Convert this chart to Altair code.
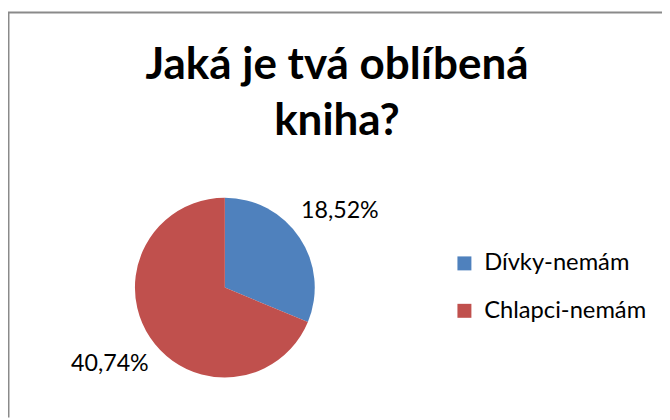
import altair as alt
import pandas as pd

categories = ["Dívky-nemám", "Chlapci-nemám"]
values = [18.52, 40.74]
colors = ["#4F81BD", "#C0504D"]
title_lines = ["Jaká je tvá oblíbená", "kniha?"]

labels = [f"{v:.2f}".replace(".", ",") + "%" for v in values]
df = pd.DataFrame({"cat": categories, "val": values, "label": labels, "ord": [0, 1]})

W, H = 662, 412
CX, CY = 219.5, 280.5
FONT = "Lato"

base = alt.Chart(df).encode(
    theta=alt.Theta("val:Q", stack=True),
    order=alt.Order("ord:Q"),
)

pie = base.mark_arc(outerRadius=91).encode(
    x=alt.value(CX), y=alt.value(CY),
    color=alt.Color(
        "cat:N",
        scale=alt.Scale(domain=categories, range=colors),
        sort=categories,
        legend=alt.Legend(
            title=None, orient="none", legendX=450, legendY=244,
            symbolType="square", symbolSize=200, symbolStrokeWidth=0,
            labelFont=FONT, labelFontSize=24, labelColor="#000000", labelLimit=400,
            rowPadding=24, padding=0, labelOffset=8, symbolOffset=0,
        ),
    ),
)

text = base.mark_text(radius=140, font=FONT, fontSize=23.5, color="#000000").encode(
    x=alt.value(CX), y=alt.value(CY), text="label:N"
)

tdf = pd.DataFrame({"t": title_lines, "i": [0, 1]})
title = alt.Chart(tdf).mark_text(
    font=FONT, fontSize=44.5, fontWeight="bold", color="#000000", baseline="alphabetic"
).encode(
    x=alt.value(333),
    y=alt.Y("i:Q", scale=alt.Scale(domain=[0, 1], range=[69, 126]), axis=None),
    text="t:N",
)

border = alt.Chart(pd.DataFrame({"a": [0]}))
top = border.mark_rule(color="#8a8a8a", strokeWidth=2).encode(
    x=alt.value(0), x2=alt.value(W), y=alt.value(2)
)
left = border.mark_rule(color="#8a8a8a", strokeWidth=2).encode(
    x=alt.value(0.5), y=alt.value(2), y2=alt.value(H)
)

chart = alt.layer(top, left, pie, text, title).resolve_scale(y="independent").properties(
    width=W, height=H, padding=0, autosize=alt.AutoSizeParams(type="none")
).configure_view(stroke=None)

chart.save("out.html", embed_options={"renderer": "svg", "actions": False})
